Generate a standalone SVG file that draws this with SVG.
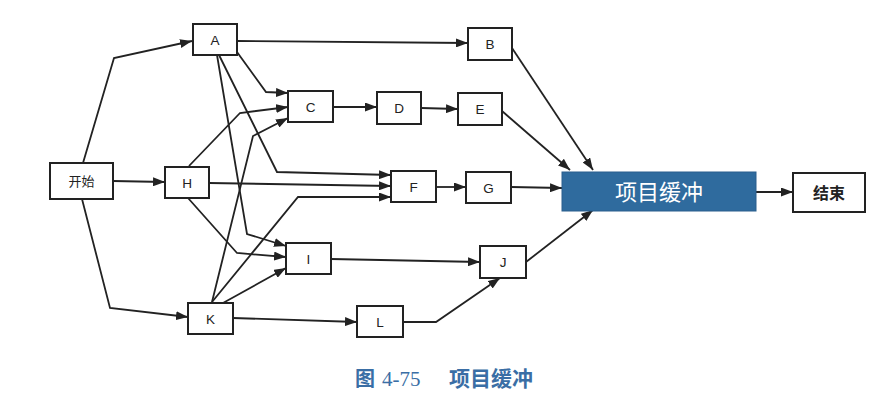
<svg xmlns="http://www.w3.org/2000/svg" width="888" height="406" viewBox="0 0 888 406">
  <defs>
    <marker id="arrow" markerUnits="userSpaceOnUse" markerWidth="12" markerHeight="9" refX="12" refY="4.5" orient="auto">
      <path d="M0,0 L12,4.5 L0,9 z" fill="#222"/>
    </marker>
    <style>
      .box { fill: #fff; stroke: #222; stroke-width: 2; }
      .lbl { font-family: "Liberation Sans", "Noto Sans CJK SC", sans-serif; font-size: 13.5px; fill: #222; text-anchor: middle; }
      .cjk { font-family: "Noto Sans CJK SC", sans-serif; text-anchor: middle; }
      .edge { fill: none; stroke: #222; stroke-width: 1.8; marker-end: url(#arrow); }
      .buffer { fill: #2f6b9e; stroke: #2a5f8d; stroke-width: 1; }
      .caption { font-size: 20px; fill: #3a6ea5; }
      .cap-cjk { font-family: "Noto Sans CJK SC", sans-serif; font-weight: bold; }
      .cap-num { font-family: "Liberation Serif", serif; font-weight: normal; font-size: 21px; }
    </style>
  </defs>
  <rect width="888" height="406" fill="#fff"/>

  <!-- connectors -->
  <g id="connectors">
    <polyline class="edge" points="83,163 114,58 192,41"/>
    <polyline class="edge" points="113,181 165,182"/>
    <polyline class="edge" points="82,199 110,308 188,317"/>
    <polyline class="edge" points="237,41 468,43"/>
    <polyline class="edge" points="237,52 266,92 288,93"/>
    <polyline class="edge" points="189,166 240,113 288,107"/>
    <polyline class="edge" points="212,302 253,136 288,118"/>
    <polyline class="edge" points="333,107 377,107"/>
    <polyline class="edge" points="421,108 458,109"/>
    <polyline class="edge" points="502,111 570,170"/>
    <polyline class="edge" points="512,48 593,170"/>
    <polyline class="edge" points="219,55 277,172 391,175"/>
    <polyline class="edge" points="209,183 391,186"/>
    <polyline class="edge" points="212,302 298,197 391,197"/>
    <polyline class="edge" points="436,187 466,187"/>
    <polyline class="edge" points="511,187 562,188"/>
    <polyline class="edge" points="217,55 247,234 286,246"/>
    <polyline class="edge" points="188,198 237,253 286,257"/>
    <polyline class="edge" points="223,303 286,268"/>
    <polyline class="edge" points="331,259 480,262"/>
    <polyline class="edge" points="233,318 357,322"/>
    <polyline class="edge" points="403,322 436,322 500,278"/>
    <polyline class="edge" points="526,262 593,210"/>
    <polyline class="edge" points="756,192 793,192"/>
  </g>

  <!-- nodes -->
  <g id="start">
    <rect class="box" x="50" y="163" width="63" height="36"/>
    <text class="cjk" x="81.5" y="185.5" font-size="13" fill="#222">开始</text>
  </g>
  <g id="A">
    <rect class="box" x="193" y="24" width="44" height="31"/>
    <text class="lbl" x="215" y="44.5">A</text>
  </g>
  <g id="B">
    <rect class="box" x="468" y="28" width="44" height="32"/>
    <text class="lbl" x="490" y="49">B</text>
  </g>
  <g id="C">
    <rect class="box" x="288" y="91" width="45" height="31"/>
    <text class="lbl" x="310.5" y="111.5">C</text>
  </g>
  <g id="D">
    <rect class="box" x="377" y="92" width="44" height="32"/>
    <text class="lbl" x="399" y="113">D</text>
  </g>
  <g id="E">
    <rect class="box" x="458" y="93" width="44" height="32"/>
    <text class="lbl" x="480" y="114" fill="#4a2a3a">E</text>
  </g>
  <g id="H">
    <rect class="box" x="165" y="167" width="44" height="31"/>
    <text class="lbl" x="187" y="187.5">H</text>
  </g>
  <g id="F">
    <rect class="box" x="391" y="171" width="45" height="31"/>
    <text class="lbl" x="413.5" y="191.5">F</text>
  </g>
  <g id="G">
    <rect class="box" x="466" y="172" width="45" height="31"/>
    <text class="lbl" x="488.5" y="192.5">G</text>
  </g>
  <g id="buffer">
    <rect class="buffer" x="562" y="172" width="194" height="39"/>
    <text class="cjk" x="659" y="199.5" font-size="22" fill="#fff">项目缓冲</text>
  </g>
  <g id="end">
    <rect class="box" x="793" y="173" width="72" height="39"/>
    <text class="cjk" x="829" y="198.5" font-size="16" font-weight="bold" fill="#222">结束</text>
  </g>
  <g id="I">
    <rect class="box" x="286" y="243" width="45" height="31"/>
    <text class="lbl" x="308.5" y="263.5">I</text>
  </g>
  <g id="J">
    <rect class="box" x="480" y="246" width="46" height="32"/>
    <text class="lbl" x="503" y="267">J</text>
  </g>
  <g id="K">
    <rect class="box" x="188" y="303" width="45" height="31"/>
    <text class="lbl" x="210.5" y="323.5">K</text>
  </g>
  <g id="L">
    <rect class="box" x="357" y="306" width="46" height="31"/>
    <text class="lbl" x="380" y="326.5">L</text>
  </g>

  <!-- figure caption -->
  <g id="caption">
    <text class="caption cap-cjk" x="355" y="386">图</text>
    <text class="caption cap-num" x="382" y="386">4-75</text>
    <text class="caption cap-cjk" x="449" y="386" style="font-size:21px">项目缓冲</text>
  </g>
</svg>
